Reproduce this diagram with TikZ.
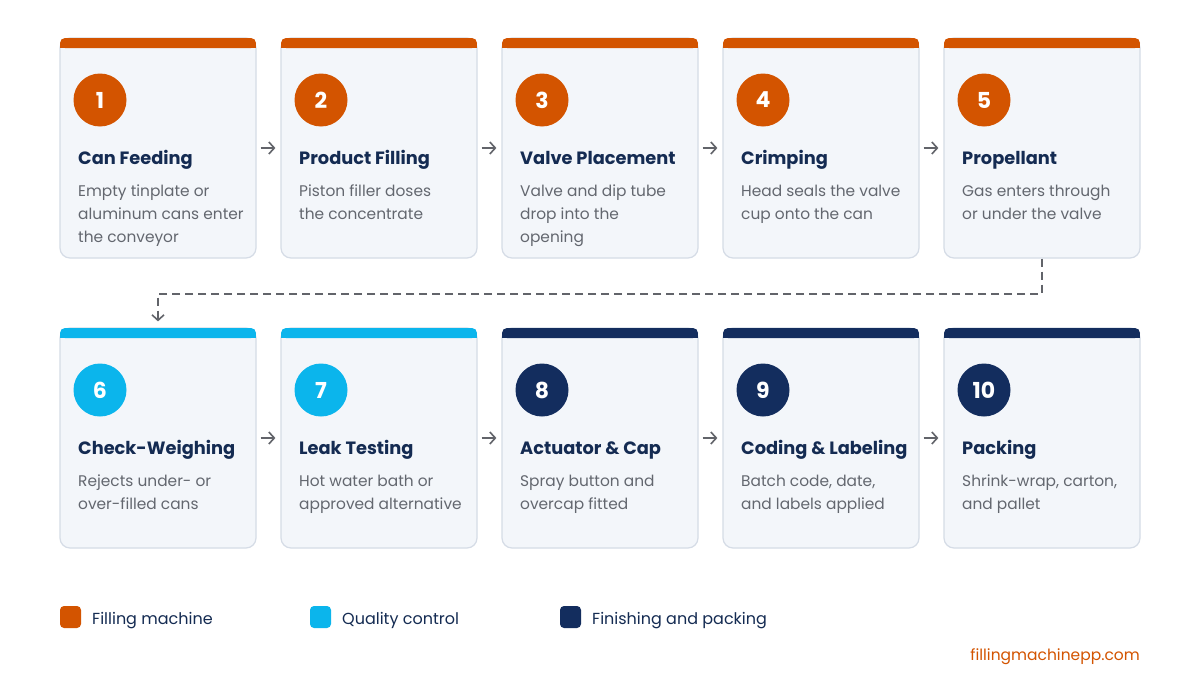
\documentclass[tikz,border=0pt]{standalone}
\usepackage{fontspec}
\setmainfont{Poppins}
\usetikzlibrary{arrows.meta}
\definecolor{orangeC}{HTML}{D35400}
\definecolor{cyanC}{HTML}{0BB5EC}
\definecolor{navyC}{HTML}{132D5E}
\definecolor{titleC}{HTML}{142B52}
\definecolor{descC}{HTML}{63676F}
\definecolor{cardF}{HTML}{F3F6FA}
\definecolor{cardB}{HTML}{D5DCE6}
\definecolor{arrC}{HTML}{62646A}
\tikzset{
  card/.style={draw=cardB, fill=cardF, line width=1.2pt, rounded corners=10pt,
    minimum width=196pt, minimum height=220pt, inner sep=0pt},
  numcirc/.style={circle, minimum size=53pt, inner sep=0pt, text=white,
    font=\fontsize{22}{24}\selectfont\bfseries},
  ttl/.style={anchor=base west, inner sep=0pt, text=titleC,
    font=\fontsize{17.8}{20}\selectfont\bfseries},
  dsc/.style={anchor=north west, inner sep=0pt, text=descC, align=left,
    font=\fontsize{15.4}{23}\selectfont},
  flow/.style={draw=arrC, line width=1.6pt, -{Straight Barb[length=5.5pt,width=12pt,line width=1.6pt]}},
  dashlink/.style={draw=arrC, line width=2pt, dash pattern=on 8pt off 5pt,
    -{Straight Barb[length=5.5pt,width=12pt,line width=1.6pt]}},
  legsq/.style={rounded corners=4pt, minimum width=21pt, minimum height=22pt, inner sep=0pt},
  legtxt/.style={anchor=base west, inner sep=0pt, text=titleC, font=\fontsize{16}{18}\selectfont},
}
\newcommand\stepcard[7]{%
  % #1 name, #2 left x, #3 top y, #4 colour, #5 number, #6 title, #7 description
  \node[card] (#1) at (#2+98, #3+110) {};
  \fill[#4, rounded corners=5pt] (#2, #3) rectangle (#2+196, #3+10);
  \fill[#4] (#2, #3+5) rectangle (#2+196, #3+10);
  \node[numcirc, fill=#4] (#1n) at (#2+40, #3+62) {#5};
  \node[ttl] (#1t) at (#2+18, #3+126) {#6};
  \node[dsc] (#1d) at (#2+18, #3+142) {\strut#7};
}
\begin{document}
\begin{tikzpicture}[x=1pt, y=-1pt]
\useasboundingbox[fill=white] (0,0) rectangle (1200,688);
\stepcard{card1}{60}{38}{orangeC}{1}{Can Feeding}{Empty tinplate or\\aluminum cans enter\\the conveyor}
\stepcard{card2}{281}{38}{orangeC}{2}{Product Filling}{Piston filler doses\\the concentrate}
\stepcard{card3}{502}{38}{orangeC}{3}{Valve Placement}{Valve and dip tube\\drop into the\\opening}
\stepcard{card4}{723}{38}{orangeC}{4}{Crimping}{Head seals the valve\\cup onto the can}
\stepcard{card5}{944}{38}{orangeC}{5}{Propellant}{Gas enters through\\or under the valve}
\stepcard{card6}{60}{328}{cyanC}{6}{Check-Weighing}{Rejects under- or\\over-filled cans}
\stepcard{card7}{281}{328}{cyanC}{7}{Leak Testing}{Hot water bath or\\approved alternative}
\stepcard{card8}{502}{328}{navyC}{8}{Actuator \& Cap}{Spray button and\\overcap fitted}
\stepcard{card9}{723}{328}{navyC}{9}{Coding \& Labeling}{Batch code, date,\\and labels applied}
\stepcard{card10}{944}{328}{navyC}{10}{Packing}{Shrink-wrap, carton,\\and pallet}
% flow arrows
\foreach \a/\b in {card1/card2,card2/card3,card3/card4,card4/card5,card6/card7,card7/card8,card8/card9,card9/card10}
  \draw[flow] ([xshift=4pt]\a.east) -- ([xshift=-5pt]\b.west);
\draw[dashlink] (card5.south) -- ++(0,35) -| ([yshift=6pt]card6.north);
% legend
\node[legsq, fill=orangeC] (leg1) at (70.5,617) {};
\node[legtxt] (leg1t) at (92,624) {Filling machine};
\node[legsq, fill=cyanC] (leg2) at (320.5,617) {};
\node[legtxt] (leg2t) at (342,624) {Quality control};
\node[legsq, fill=navyC] (leg3) at (570.5,617) {};
\node[legtxt] (leg3t) at (592,624) {Finishing and packing};
\node[anchor=base east, inner sep=0pt, text=orangeC, font=\fontsize{15.5}{18}\selectfont] (url) at (1140,660) {fillingmachinepp.com};
\end{tikzpicture}
\end{document}
